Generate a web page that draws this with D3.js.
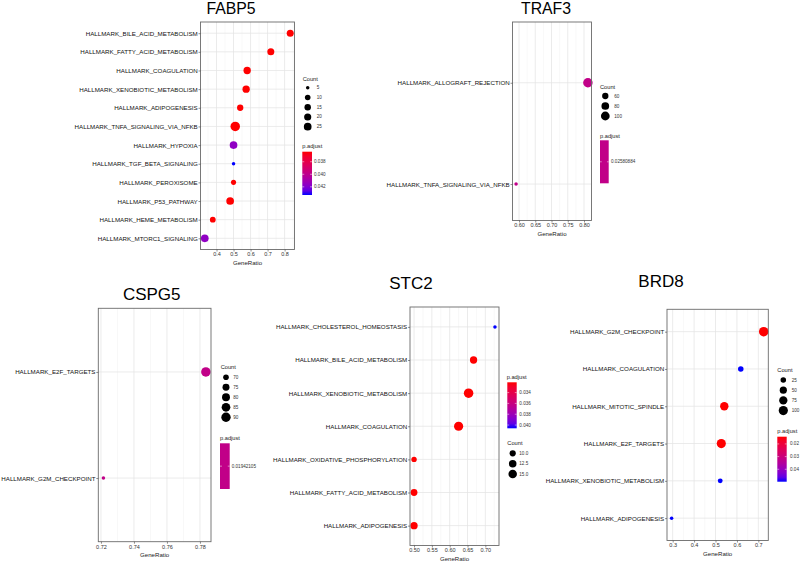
<!DOCTYPE html>
<html><head><meta charset="utf-8">
<script src="https://cdn.jsdelivr.net/npm/d3@7"></script>
<style>
html,body{margin:0;padding:0;background:#fff;}
svg{display:block;font-family:"Liberation Sans",Arial,Helvetica,sans-serif;}
</style></head><body>
<svg id="chart" width="800" height="561"></svg>
<script>
// ---------------- DATA ----------------
const fabp5Terms = ["HALLMARK_BILE_ACID_METABOLISM","HALLMARK_FATTY_ACID_METABOLISM","HALLMARK_COAGULATION","HALLMARK_XENOBIOTIC_METABOLISM","HALLMARK_ADIPOGENESIS","HALLMARK_TNFA_SIGNALING_VIA_NFKB","HALLMARK_HYPOXIA","HALLMARK_TGF_BETA_SIGNALING","HALLMARK_PEROXISOME","HALLMARK_P53_PATHWAY","HALLMARK_HEME_METABOLISM","HALLMARK_MTORC1_SIGNALING"];
const fabp5Ratio = [0.833,0.719,0.580,0.574,0.539,0.510,0.500,0.500,0.500,0.480,0.378,0.331];
const fabp5Count = [19,19,22,22,14,46,25,5,8,25,11,25];
const fabp5Padj  = [0.0364,0.0364,0.0364,0.0364,0.0364,0.0364,0.0416,0.0433,0.0364,0.0364,0.0364,0.0416];
const fabp5Ticks = [0.4,0.5,0.6,0.7,0.8];
const fabp5CountBreaks = [5,10,15,20,25];
const fabp5PadjBreaks = [0.038,0.040,0.042];

const traf3Terms = ["HALLMARK_ALLOGRAFT_REJECTION","HALLMARK_TNFA_SIGNALING_VIA_NFKB"];
const traf3Ratio = [0.812,0.591];
const traf3Count = [117,44];
const traf3Padj  = [0.02580884,0.02580884];
const traf3Ticks = [0.60,0.65,0.70,0.75,0.80];
const traf3CountBreaks = [60,80,100];
const traf3PadjBreaks = [0.02580884];

const cspg5Terms = ["HALLMARK_E2F_TARGETS","HALLMARK_G2M_CHECKPOINT"];
const cspg5Ratio = [0.7836,0.7215];
const cspg5Count = [91,67];
const cspg5Padj  = [0.01942105,0.01942105];
const cspg5Ticks = [0.72,0.74,0.76,0.78];
const cspg5CountBreaks = [70,75,80,85,90];
const cspg5PadjBreaks = [0.01942105];

const stc2Terms = ["HALLMARK_CHOLESTEROL_HOMEOSTASIS","HALLMARK_BILE_ACID_METABOLISM","HALLMARK_XENOBIOTIC_METABOLISM","HALLMARK_COAGULATION","HALLMARK_OXIDATIVE_PHOSPHORYLATION","HALLMARK_FATTY_ACID_METABOLISM","HALLMARK_ADIPOGENESIS"];
const stc2Ratio = [0.727,0.667,0.653,0.625,0.500,0.500,0.500];
const stc2Count = [8,12,18,17,9,11,12];
const stc2Padj  = [0.0406,0.0321,0.0321,0.0321,0.0321,0.0321,0.0321];
const stc2Ticks = [0.50,0.55,0.60,0.65,0.70];
const stc2CountBreaks = [10,12.5,15];
const stc2PadjBreaks = [0.034,0.036,0.038,0.040];

const brd8Terms = ["HALLMARK_G2M_CHECKPOINT","HALLMARK_COAGULATION","HALLMARK_MITOTIC_SPINDLE","HALLMARK_E2F_TARGETS","HALLMARK_XENOBIOTIC_METABOLISM","HALLMARK_ADIPOGENESIS"];
const brd8Ratio = [0.725,0.618,0.541,0.527,0.522,0.295];
const brd8Count = [110,25,79,100,19,14];
const brd8Padj  = [0.0143,0.0498,0.0143,0.0143,0.0498,0.0498];
const brd8Ticks = [0.3,0.4,0.5,0.6,0.7];
const brd8CountBreaks = [25,50,75,100];
const brd8PadjBreaks = [0.02,0.03,0.04];

// ---------------- LAYOUT ----------------
const panels = [
  {title:"FABP5", terms:fabp5Terms, ratio:fabp5Ratio, count:fabp5Count, padj:fabp5Padj, ticks:fabp5Ticks, tf:".1f",
   cb:fabp5CountBreaks, cbf:"d", pb:fabp5PadjBreaks, pbf:".3f",
   L:{x0:200.5,x1:294.5,y0:22,y1:249.5,padT:0.6,padB:0.6,tx:231,ty:14.3,tfs:15.8,
      order:["count","padj"], ctx:302.7,cty:79.3,kx:307.7,ky0:87.7,kstep:9.75,klx:316.7,
      ptx:302.3,pty:146,bx:302.3,bw:9.7,by:151.7,bh:43.3,blx:314}},
  {title:"TRAF3", terms:traf3Terms, ratio:traf3Ratio, count:traf3Count, padj:traf3Padj, ticks:traf3Ticks, tf:".2f",
   cb:traf3CountBreaks, cbf:"d", pb:traf3PadjBreaks, pbf:".8f",
   L:{x0:512.5,x1:591.5,y0:22,y1:220.5,padT:0.6,padB:0.36,tx:546,ty:14.3,tfs:15.8,
      order:["count","padj"], ctx:600,cty:86.7,kx:605.3,ky0:96,kstep:10,klx:614.3,
      ptx:600,pty:136,bx:600,bw:8.7,by:140.3,bh:43,blx:611}},
  {title:"CSPG5", terms:cspg5Terms, ratio:cspg5Ratio, count:cspg5Count, padj:cspg5Padj, ticks:cspg5Ticks, tf:".2f",
   cb:cspg5CountBreaks, cbf:"d", pb:cspg5PadjBreaks, pbf:".8f",
   L:{x0:98.3,x1:211,y0:308.3,y1:541.7,padT:0.6,padB:0.6,tx:151.7,ty:300,tfs:17,
      order:["count","padj"], ctx:220.7,cty:367.3,kx:226,ky0:377.3,kstep:10,klx:233.3,
      ptx:220,pty:438.3,bx:220,bw:9.7,by:443.3,bh:45.7,blx:231.7}},
  {title:"STC2", terms:stc2Terms, ratio:stc2Ratio, count:stc2Count, padj:stc2Padj, ticks:stc2Ticks, tf:".2f",
   cb:stc2CountBreaks, cbf:".1f", pb:stc2PadjBreaks, pbf:".3f",
   L:{x0:410,x1:499,y0:307,y1:545.5,padT:0.6,padB:0.6,tx:411,ty:289.3,tfs:17,
      order:["padj","count"], ctx:507.3,cty:443.3,kx:512.7,ky0:453.3,kstep:10.35,klx:519.3,
      ptx:506.7,pty:377.3,bx:507.3,bw:9.4,by:382.3,bh:46,blx:519.3}},
  {title:"BRD8", terms:brd8Terms, ratio:brd8Ratio, count:brd8Count, padj:brd8Padj, ticks:brd8Ticks, tf:".1f",
   cb:brd8CountBreaks, cbf:"d", pb:brd8PadjBreaks, pbf:".2f",
   L:{x0:667,x1:768.3,y0:309.3,y1:540.5,padT:0.6,padB:0.6,tx:661,ty:286.7,tfs:17,
      order:["count","padj"], ctx:777.3,cty:370,kx:783.3,ky0:380,kstep:10.2,klx:791.7,
      ptx:777.3,pty:431,bx:777.3,bw:9.4,by:436.7,bh:45,blx:790}}
];

const svg = d3.select("#chart");
svg.append("rect").attr("width",800).attr("height",561).attr("fill","#fff");
const defs = svg.append("defs");
const labRB = d3.interpolateLab("red","blue");

panels.forEach((p, pi) => {
  const L = p.L;
  const g = svg.append("g");
  const n = p.terms.length;
  const [lo, hi] = d3.extent(p.ratio);
  const ex = (hi - lo) * 0.05;
  const x = d3.scaleLinear().domain([lo - ex, hi + ex]).range([L.x0, L.x1]);
  const u = (L.y1 - L.y0) / (n - 1 + L.padT + L.padB);
  const y = d3.scalePoint().domain(p.terms).range([L.y0 + L.padT * u, L.y1 - L.padB * u]);
  const cExt = d3.extent(p.count);
  const tScale = d3.scaleLinear().domain(cExt).range([0,1]).clamp(true);
  const rLin = d3.scaleLinear().domain([0,1]).range([1.75,4.75]);
  const rad = c => rLin(Math.sqrt(tScale(c)));
  const pExt = d3.extent(p.padj);
  const single = pExt[0] === pExt[1];
  const col = single ? (() => labRB(0.5))
    : d3.scaleLinear().domain(pExt).range(["red","blue"]).interpolate(d3.interpolateLab);

  g.append("rect").attr("x",L.x0).attr("y",L.y0).attr("width",L.x1-L.x0).attr("height",L.y1-L.y0).attr("fill","#fff");
  const step = p.ticks[1]-p.ticks[0];
  const minors = [];
  for (let v = p.ticks[0]-step/2; v <= x.domain()[1]+1e-9; v += step) {
    if (v >= x.domain()[0]) minors.push(v);
  }
  g.selectAll(".mn").data(minors).join("line")
    .attr("x1",d=>x(d)).attr("x2",d=>x(d)).attr("y1",L.y0).attr("y2",L.y1)
    .attr("stroke","#f0f0f0").attr("stroke-width",0.5);
  g.selectAll(".mj").data(p.ticks).join("line")
    .attr("x1",d=>x(d)).attr("x2",d=>x(d)).attr("y1",L.y0).attr("y2",L.y1)
    .attr("stroke","#e4e4e4").attr("stroke-width",0.75);
  g.selectAll(".hz").data(p.terms).join("line")
    .attr("x1",L.x0).attr("x2",L.x1).attr("y1",d=>y(d)).attr("y2",d=>y(d))
    .attr("stroke","#e4e4e4").attr("stroke-width",0.75);

  const pts = p.terms.map((t,i)=>({t, r:p.ratio[i], c:p.count[i], q:p.padj[i]}));
  g.selectAll(".pt").data(pts).join("circle")
    .attr("cx",d=>x(d.r)).attr("cy",d=>y(d.t)).attr("r",d=>rad(d.c))
    .attr("fill",d=>col(d.q));

  g.append("rect").attr("x",L.x0).attr("y",L.y0).attr("width",L.x1-L.x0).attr("height",L.y1-L.y0)
    .attr("fill","none").attr("stroke","#6b6b6b").attr("stroke-width",0.9);

  const xa = g.append("g").attr("transform",`translate(0,${L.y1})`)
    .call(d3.axisBottom(x).tickValues(p.ticks).tickFormat(d3.format(p.tf)).tickSize(2).tickPadding(1));
  xa.select(".domain").remove();
  xa.selectAll("line").attr("stroke","#444").attr("stroke-width",0.6);
  xa.selectAll("text").attr("font-size",5.5).attr("fill","#333").attr("font-family",null);
  const ya = g.append("g").attr("transform",`translate(${L.x0},0)`)
    .call(d3.axisLeft(y).tickSize(2).tickPadding(0.8));
  ya.select(".domain").remove();
  ya.selectAll("line").attr("stroke","#444").attr("stroke-width",0.6);
  ya.selectAll("text").attr("font-size",6.2).attr("fill","#111").attr("font-family",null);

  g.append("text").attr("x",(L.x0+L.x1)/2).attr("y",L.y1+12.5).attr("text-anchor","middle")
    .attr("dominant-baseline","central").attr("font-size",6.1).attr("fill","#1a1a1a").text("GeneRatio");

  g.append("text").attr("x",L.tx).attr("y",L.ty).attr("text-anchor","middle")
    .attr("font-size",L.tfs).attr("fill","#000").text(p.title);

  g.append("text").attr("x",L.ctx).attr("y",L.cty).attr("dominant-baseline","central")
    .attr("font-size",5.7).attr("fill","#1a1a1a").text("Count");
  const kf = d3.format(p.cbf);
  const keys = p.cb.map((v,i)=>({v, yy: L.ky0 + i*L.kstep}));
  g.selectAll(".kd").data(keys).join("circle")
    .attr("cx",L.kx).attr("cy",d=>d.yy).attr("r",d=>rad(d.v)).attr("fill","#000");
  g.selectAll(".kl").data(keys).join("text")
    .attr("x",L.klx).attr("y",d=>d.yy).attr("dominant-baseline","central")
    .attr("font-size",4.6).attr("fill","#333").text(d=>kf(d.v));

  g.append("text").attr("x",L.ptx).attr("y",L.pty).attr("dominant-baseline","central")
    .attr("font-size",5.7).attr("fill","#1a1a1a").text("p.adjust");
  const gid = "grad"+pi;
  const grad = defs.append("linearGradient").attr("id",gid).attr("x1",0).attr("y1",0).attr("x2",0).attr("y2",1);
  d3.range(0,1.0001,0.1).forEach(s=>{
    grad.append("stop").attr("offset",s).attr("stop-color", single ? labRB(0.5) : labRB(s));
  });
  g.append("rect").attr("x",L.bx).attr("y",L.by).attr("width",L.bw).attr("height",L.bh).attr("fill",`url(#${gid})`);
  const bScale = single ? (()=> L.by + L.bh/2)
    : d3.scaleLinear().domain(pExt).range([L.by, L.by+L.bh]);
  const pf = d3.format(p.pbf);
  p.pb.forEach(v=>{
    const yy = bScale(v);
    g.append("line").attr("x1",L.bx).attr("x2",L.bx+L.bw*0.2).attr("y1",yy).attr("y2",yy).attr("stroke","#fff").attr("stroke-width",0.5);
    g.append("line").attr("x1",L.bx+L.bw*0.8).attr("x2",L.bx+L.bw).attr("y1",yy).attr("y2",yy).attr("stroke","#fff").attr("stroke-width",0.5);
    g.append("text").attr("x",L.blx).attr("y",yy).attr("dominant-baseline","central")
      .attr("font-size",4.6).attr("fill","#333").text(pf(v));
  });
});
</script>
</body></html>
